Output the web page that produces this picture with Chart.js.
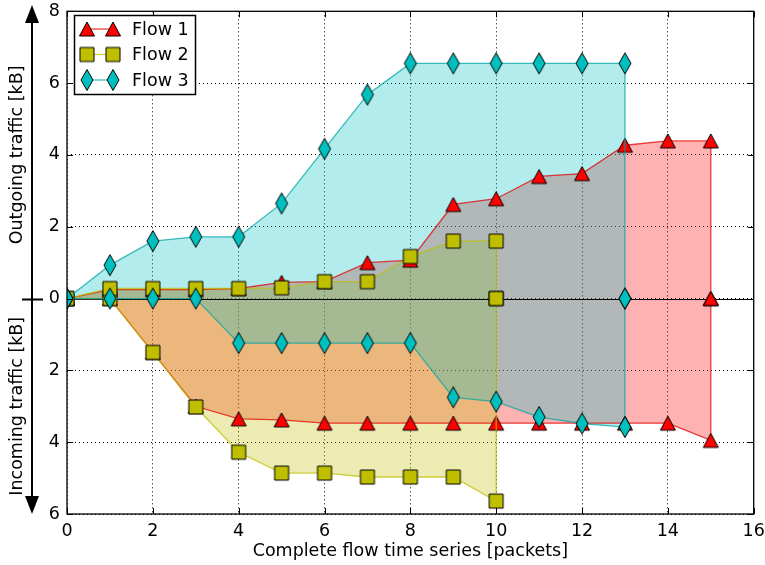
<!DOCTYPE html>
<html>
<head>
<meta charset="utf-8">
<script src="https://cdn.jsdelivr.net/npm/chart.js@4.4.0/dist/chart.umd.min.js"></script>
<style>
html, body { margin: 0; padding: 0; background: #fff; }
#wrap { width: 765px; height: 565px; }
</style>
</head>
<body>
<div id="wrap"><canvas id="chart" width="765" height="565"></canvas></div>
<script>
'use strict';

// packet index (x axis)
var packets = [0, 1, 2, 3, 4, 5, 6, 7, 8, 9, 10, 11, 12, 13, 14, 15];

// outgoing / incoming traffic in kB (incoming stored as magnitudes)
var flow1Out = [0, 0.25, 0.25, 0.25, 0.28, 0.45, 0.47, 1.0, 1.07, 2.62, 2.78, 3.4, 3.48, 4.27, 4.39, 4.39];
var flow1In = [0, 0, 1.5, 3.0, 3.35, 3.38, 3.47, 3.47, 3.47, 3.47, 3.47, 3.47, 3.47, 3.47, 3.47, 3.95];
var flow2Out = [0, 0.28, 0.28, 0.28, 0.28, 0.3, 0.47, 0.47, 1.17, 1.6, 1.6];
var flow2In = [0, 0, 1.5, 3.02, 4.28, 4.86, 4.86, 4.97, 4.97, 4.97, 5.64];
var flow3Out = [0, 0.93, 1.6, 1.72, 1.72, 2.65, 4.17, 5.68, 6.55, 6.55, 6.55, 6.55, 6.55, 6.55];
var flow3In = [0, 0, 0, 0, 1.24, 1.24, 1.24, 1.24, 1.24, 2.75, 2.87, 3.3, 3.48, 3.58];

var flowNames = ['Flow 1', 'Flow 2', 'Flow 3'];
var xTicks = [0, 2, 4, 6, 8, 10, 12, 14, 16];
var yTicks = [-6, -4, -2, 0, 2, 4, 6, 8];

var FONT = '"DejaVu Sans", sans-serif';

var makeMarker = function makeMarker(shape, color) {
  var c = document.createElement('canvas'),
    ctx;
  c.width = 22;
  c.height = 24;
  ctx = c.getContext('2d');
  ctx.translate(11, 12);
  ctx.beginPath();
  if (shape === 'triangle') {
    ctx.moveTo(0, -7);
    ctx.lineTo(7.5, 7);
    ctx.lineTo(-7.5, 7);
  } else if (shape === 'square') {
    ctx.rect(-7, -7, 14, 14);
  } else {
    ctx.moveTo(0, -10.5);
    ctx.lineTo(6, 0);
    ctx.lineTo(0, 10.5);
    ctx.lineTo(-6, 0);
  }
  ctx.closePath();
  ctx.fillStyle = color;
  ctx.fill();
  ctx.lineWidth = 1;
  ctx.strokeStyle = '#000';
  ctx.stroke();
  return c;
};

var flows = [
  { out: flow1Out, inc: flow1In, marker: makeMarker('triangle', '#ff0000'), line: 'rgba(230,0,0,0.75)', fill: 'rgba(255,0,0,0.3)' },
  { out: flow2Out, inc: flow2In, marker: makeMarker('square', '#bfbf00'), line: 'rgba(191,191,0,0.75)', fill: 'rgba(191,191,0,0.3)' },
  { out: flow3Out, inc: flow3In, marker: makeMarker('diamond', '#00bfbf'), line: 'rgba(0,165,165,0.75)', fill: 'rgba(0,191,191,0.3)' }
];

var toPoints = function toPoints(values, sign) {
  var pts = values.map(function(v, i) {
    return { x: packets[i], y: sign * v };
  });
  pts.push({ x: packets[values.length - 1], y: 0 });
  return pts;
};

var datasets = [];
flows.forEach(function(f, i) {
  [[f.out, 1], [f.inc, -1]].forEach(function(pair) {
    datasets.push({
      label: flowNames[i],
      data: toPoints(pair[0], pair[1]),
      borderColor: f.line,
      borderWidth: 1.3,
      backgroundColor: f.fill,
      fill: 'origin',
      pointStyle: f.marker,
      pointRadius: 10,
      pointHoverRadius: 10,
      tension: 0,
      order: 3 - i
    });
  });
});

var decorPlugin = {
  id: 'decor',
  beforeDatasetsDraw: function(chart) {
    var ctx = chart.ctx,
      a = chart.chartArea,
      y0 = Math.round(chart.scales.y.getPixelForValue(0)) + 0.5;
    ctx.save();
    ctx.strokeStyle = '#000';
    ctx.lineWidth = 1.2;
    ctx.beginPath();
    ctx.moveTo(a.left, y0);
    ctx.lineTo(a.right, y0);
    ctx.stroke();
    ctx.restore();
  },
  afterDraw: function(chart) {
    var ctx = chart.ctx,
      a = chart.chartArea,
      xs = chart.scales.x,
      ys = chart.scales.y,
      y0 = ys.getPixelForValue(0),
      tick = 6;

    ctx.save();
    // frame
    ctx.strokeStyle = '#000';
    ctx.lineWidth = 1.3;
    ctx.strokeRect(a.left, a.top, a.right - a.left, a.bottom - a.top);

    // inward ticks
    ctx.lineWidth = 1;
    ctx.beginPath();
    xTicks.forEach(function(v) {
      var px = Math.round(xs.getPixelForValue(v)) + 0.5;
      ctx.moveTo(px, a.top);
      ctx.lineTo(px, a.top + tick);
      ctx.moveTo(px, a.bottom);
      ctx.lineTo(px, a.bottom - tick);
    });
    yTicks.forEach(function(v) {
      var py = Math.round(ys.getPixelForValue(v)) + 0.5;
      ctx.moveTo(a.left, py);
      ctx.lineTo(a.left + tick, py);
      ctx.moveTo(a.right, py);
      ctx.lineTo(a.right - tick, py);
    });
    ctx.stroke();

    // double arrow on the left
    ctx.lineWidth = 2;
    ctx.beginPath();
    ctx.moveTo(32, 20);
    ctx.lineTo(32, 498);
    ctx.moveTo(22, Math.round(y0) + 0.5);
    ctx.lineTo(43, Math.round(y0) + 0.5);
    ctx.stroke();
    ctx.fillStyle = '#000';
    ctx.beginPath();
    ctx.moveTo(32, 5);
    ctx.lineTo(39, 23);
    ctx.lineTo(25, 23);
    ctx.closePath();
    ctx.fill();
    ctx.beginPath();
    ctx.moveTo(32, 514);
    ctx.lineTo(39, 496);
    ctx.lineTo(25, 496);
    ctx.closePath();
    ctx.fill();

    // axis titles
    ctx.fillStyle = '#000';
    ctx.textAlign = 'center';
    ctx.textBaseline = 'middle';
    ctx.font = '17.5px ' + FONT;
    ctx.fillText('Complete flow time series [packets]', (a.left + a.right) / 2, 551);
    ctx.save();
    ctx.translate(17, (a.top + y0) / 2);
    ctx.rotate(-Math.PI / 2);
    ctx.fillText('Outgoing traffic [kB]', 0, 0);
    ctx.restore();
    ctx.save();
    ctx.translate(17, (y0 + a.bottom) / 2);
    ctx.rotate(-Math.PI / 2);
    ctx.fillText('Incoming traffic [kB]', 0, 0);
    ctx.restore();

    // legend
    ctx.fillStyle = '#fff';
    ctx.fillRect(74.5, 15.5, 121, 79);
    ctx.lineWidth = 1.5;
    ctx.strokeStyle = '#000';
    ctx.strokeRect(74.5, 15.5, 121, 79);
    ctx.textAlign = 'left';
    ctx.font = '17.5px ' + FONT;
    flows.forEach(function(f, i) {
      var cy = 29 + i * 25.5;
      ctx.strokeStyle = f.line;
      ctx.lineWidth = 1.3;
      ctx.beginPath();
      ctx.moveTo(87, cy);
      ctx.lineTo(113, cy);
      ctx.stroke();
      ctx.drawImage(f.marker, 87 - 11, cy - 12);
      ctx.drawImage(f.marker, 113 - 11, cy - 12);
      ctx.fillStyle = '#000';
      ctx.fillText(flowNames[i], 132, cy + 1);
    });
    ctx.restore();
  }
};

new Chart(document.getElementById('chart'), {
  type: 'line',
  data: { datasets: datasets },
  options: {
    responsive: false,
    animation: false,
    devicePixelRatio: 1,
    events: [],
    layout: { padding: { top: 7, right: 10, bottom: 0, left: 0 } },
    plugins: {
      legend: { display: false },
      tooltip: { enabled: false },
      filler: { drawTime: 'beforeDatasetsDraw' }
    },
    scales: {
      x: {
        type: 'linear',
        min: 0,
        max: 16,
        afterFit: function(s) { s.height = 51; s.paddingLeft = 0; s.paddingRight = 0; },
        afterBuildTicks: function(s) { s.ticks = xTicks.map(function(v) { return { value: v }; }); },
        grid: { color: '#000', lineWidth: 1, drawTicks: false },
        border: { display: false, dash: [1, 3] },
        ticks: { autoSkip: false, maxRotation: 0, padding: 7, color: '#000', font: { family: FONT, size: 17.5 } }
      },
      y: {
        type: 'linear',
        min: -6,
        max: 8,
        afterFit: function(s) { s.width = 67; s.paddingTop = 0; s.paddingBottom = 0; },
        afterBuildTicks: function(s) { s.ticks = yTicks.map(function(v) { return { value: v }; }); },
        grid: { color: '#000', lineWidth: 1, drawTicks: false },
        border: { display: false, dash: [1, 3] },
        ticks: {
          padding: 7,
          color: '#000',
          font: { family: FONT, size: 17.5 },
          callback: function(v) { return String(Math.abs(v)); }
        }
      }
    }
  },
  plugins: [decorPlugin]
});
</script>
</body>
</html>
